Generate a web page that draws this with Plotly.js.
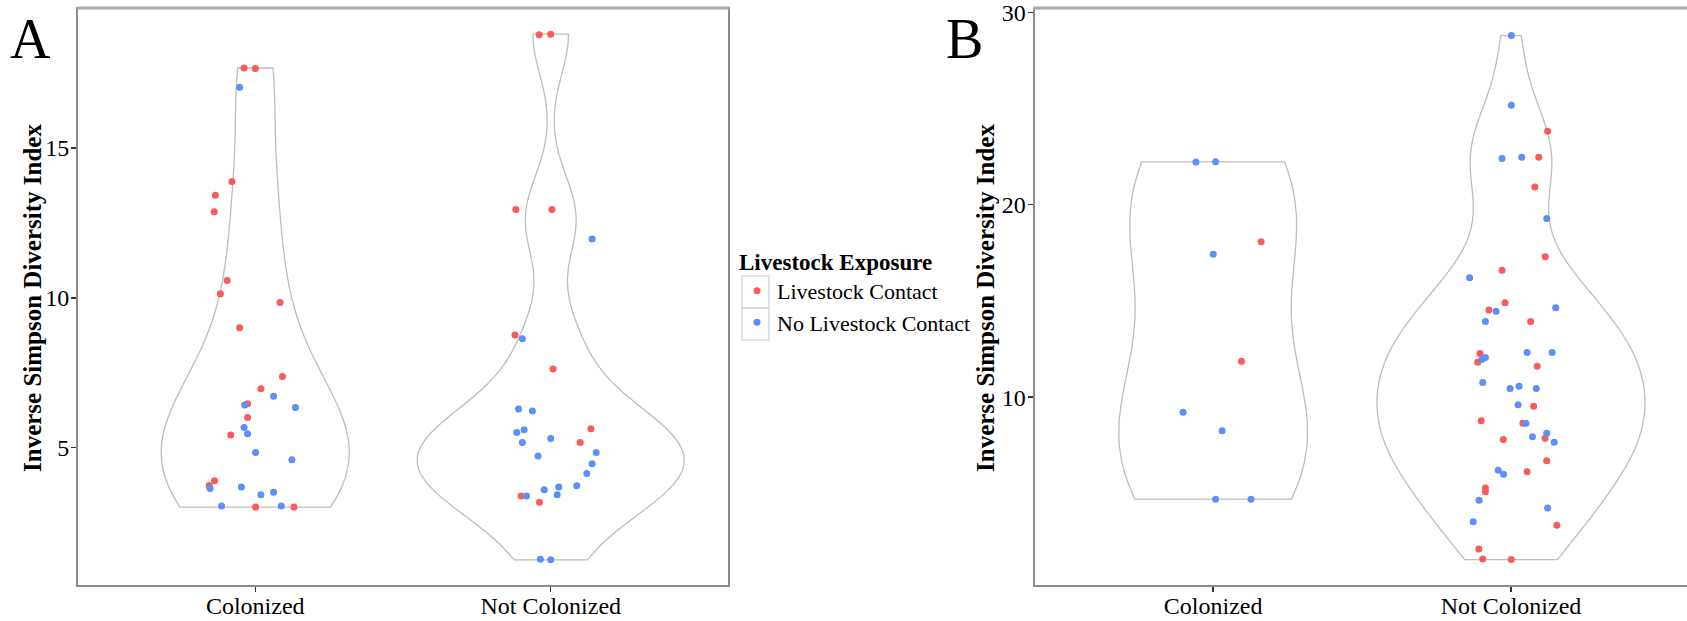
<!DOCTYPE html>
<html>
<head>
<meta charset="utf-8">
<script src="https://cdn.plot.ly/plotly-3.0.1.min.js"></script>
<style>
  html, body { margin: 0; padding: 0; background: #fff; }
  #chart { width: 1687px; height: 621px; }
</style>
</head>
<body>
<div id="chart"></div>
<script>
// Categories and groups
const categories = ['Colonized', 'Not Colonized'];
const exposureNames = ['Livestock Contact', 'No Livestock Contact'];
const exposureColors = ['#fa5a5a', '#5b8ff9'];
const yTitleText = 'Inverse Simpson Diversity Index';

// Panel A: Inverse Simpson diversity, with horizontal jitter offsets of each point
const aColContactY   = [17.67, 17.65, 13.88, 13.42, 12.87, 10.58, 10.13, 9.84, 9.00, 7.37, 6.96, 6.46, 6.00, 5.42, 3.89, 3.73, 3.01, 3.01];
const aColContactJit = [-0.038, 0.000, -0.079, -0.135, -0.139, -0.095, -0.118, 0.084, -0.053, 0.092, 0.019, -0.026, -0.026, -0.083, -0.138, -0.156, 0.001, 0.131];
const aColNoContactY   = [17.03, 6.71, 6.42, 6.34, 5.67, 5.46, 4.83, 4.59, 3.63, 3.68, 3.42, 3.51, 3.05, 3.05];
const aColNoContactJit = [-0.053, 0.062, -0.036, 0.136, -0.038, -0.026, 0.001, 0.124, -0.153, -0.047, 0.019, 0.062, -0.114, 0.088];
const aNotContactY   = [18.78, 18.80, 12.95, 12.95, 8.76, 7.62, 5.63, 5.17, 3.38, 3.17];
const aNotContactJit = [-0.039, 0.000, -0.118, 0.004, -0.121, 0.008, 0.136, 0.100, -0.100, -0.038];
const aNotNoContactY   = [11.96, 8.63, 6.29, 6.22, 5.59, 5.50, 5.30, 5.17, 4.83, 4.72, 4.46, 4.13, 3.72, 3.68, 3.59, 3.42, 3.38, 1.27, 1.25];
const aNotNoContactJit = [0.140, -0.096, -0.109, -0.062, -0.090, -0.115, 0.000, -0.096, 0.154, -0.043, 0.140, 0.122, 0.088, 0.027, -0.022, 0.022, -0.082, -0.035, 0.000];

// Panel B
const bColContactY   = [18.08, 11.87];
const bColContactJit = [0.161, 0.095];
const bColNoContactY   = [22.22, 22.23, 17.42, 9.22, 8.26, 4.70, 4.70];
const bColNoContactJit = [-0.058, 0.008, 0.000, -0.101, 0.030, 0.008, 0.127];
const bNotContactY   = [23.82, 22.47, 20.92, 17.30, 16.59, 14.91, 14.53, 13.93, 12.27, 11.82, 11.61, 9.53, 8.77, 8.64, 7.87, 7.80, 6.70, 6.13, 5.28, 5.09, 3.34, 2.11, 1.59, 1.56];
const bNotContactJit = [0.123, 0.093, 0.080, 0.115, -0.030, -0.020, -0.074, 0.066, -0.104, -0.112, 0.088, 0.076, -0.100, 0.040, 0.114, -0.026, 0.120, 0.054, -0.086, -0.086, 0.154, -0.108, -0.095, 0.001];
const bNotNoContactY   = [28.79, 25.17, 22.40, 22.47, 19.29, 16.20, 14.46, 14.65, 13.93, 12.06, 11.96, 12.32, 12.32, 10.76, 10.45, 10.57, 10.45, 9.61, 8.64, 8.13, 7.94, 7.66, 6.20, 6.00, 4.64, 4.24, 3.53];
const bNotNoContactJit = [0.001, 0.001, -0.030, 0.036, 0.120, -0.139, -0.050, 0.150, -0.086, -0.086, -0.098, 0.054, 0.138, -0.095, -0.003, 0.027, 0.085, 0.024, 0.050, 0.120, 0.072, 0.145, -0.043, -0.025, -0.107, 0.123, -0.127];

const aTicks = [5, 10, 15];
const bTicks = [10, 20, 30];

// Silverman's rule (R's bw.nrd0) for the kernel density bandwidth
function quantile7(sorted, p) {
  const h = (sorted.length - 1) * p;
  const lo = Math.floor(h);
  const hi = Math.min(lo + 1, sorted.length - 1);
  return sorted[lo] + (h - lo) * (sorted[hi] - sorted[lo]);
}
function nrd0(vals) {
  const n = vals.length;
  const s = vals.slice().sort((a, b) => a - b);
  const mean = s.reduce((a, b) => a + b, 0) / n;
  const sd = Math.sqrt(s.reduce((a, b) => a + (b - mean) * (b - mean), 0) / (n - 1));
  const iqr = quantile7(s, 0.75) - quantile7(s, 0.25);
  let lo = Math.min(sd, iqr / 1.34);
  if (!(lo > 0)) lo = sd || Math.abs(s[0]) || 1;
  return 0.9 * lo * Math.pow(n, -0.2);
}

// Violins in one panel share a density scale (equal-area scaling)
function violin(vals, pos, xa, ya, group) {
  return {
    type: 'violin', orientation: 'v', y: vals, x0: pos, xaxis: xa, yaxis: ya,
    scalegroup: group, scalemode: 'width', spanmode: 'hard',
    bandwidth: nrd0(vals), points: false,
    box: { visible: false }, meanline: { visible: false },
    line: { color: '#bdbdbd', width: 1.3 }, fillcolor: 'rgba(255,255,255,0)',
    hoverinfo: 'skip', showlegend: false
  };
}
function dots(vals, jit, pos, xa, ya, k, showlegend) {
  return {
    type: 'scatter', mode: 'markers', x: jit.map(j => pos + j), y: vals,
    xaxis: xa, yaxis: ya, name: exposureNames[k],
    marker: { color: exposureColors[k], size: 7 },
    showlegend: showlegend, hoverinfo: 'y'
  };
}

const traces = [
  violin(aColContactY.concat(aColNoContactY), 0, 'x', 'y', 'A'),
  violin(aNotContactY.concat(aNotNoContactY), 1, 'x', 'y', 'A'),
  violin(bColContactY.concat(bColNoContactY), 0, 'x2', 'y2', 'B'),
  violin(bNotContactY.concat(bNotNoContactY), 1, 'x2', 'y2', 'B'),
  dots(aColContactY, aColContactJit, 0, 'x', 'y', 0, true),
  dots(aColNoContactY, aColNoContactJit, 0, 'x', 'y', 1, true),
  dots(aNotContactY, aNotContactJit, 1, 'x', 'y', 0, false),
  dots(aNotNoContactY, aNotNoContactJit, 1, 'x', 'y', 1, false),
  dots(bColContactY, bColContactJit, 0, 'x2', 'y2', 0, false),
  dots(bColNoContactY, bColNoContactJit, 0, 'x2', 'y2', 1, false),
  dots(bNotContactY, bNotContactJit, 1, 'x2', 'y2', 0, false),
  dots(bNotNoContactY, bNotNoContactJit, 1, 'x2', 'y2', 1, false)
];

const W = 1687, H = 621;
const yDom = [(H - 585) / H, (H - 9) / H];
const axisBase = {
  showline: true, linecolor: '#8c8c8c', linewidth: 2,
  ticks: 'outside', ticklen: 5, tickwidth: 1.5, tickcolor: '#333',
  showgrid: false, zeroline: false, fixedrange: true,
  tickfont: { size: 24, color: '#000' }, ticklabeloverflow: 'allow'
};
const yTitleFont = { size: 25, weight: 'bold', color: '#000' };

const layout = {
  width: W, height: H,
  margin: { l: 0, r: 0, t: 0, b: 0 },
  paper_bgcolor: '#fff', plot_bgcolor: '#fff',
  violinmode: 'overlay', violingap: 0.1, violingroupgap: 0,
  font: { family: '"Liberation Serif", "Times New Roman", serif', color: '#000', size: 22 },
  xaxis: Object.assign({}, axisBase, {
    domain: [78 / W, 728 / W], range: [-0.6, 1.6], anchor: 'y', mirror: true,
    tickvals: [0, 1], ticktext: categories, ticklabelstandoff: -7
  }),
  yaxis: Object.assign({}, axisBase, {
    domain: yDom, range: [0.41, 19.64], anchor: 'x', mirror: true,
    tickvals: aTicks, ticklabelstandoff: -3
  }),
  xaxis2: Object.assign({}, axisBase, {
    domain: [1034.5 / W, 1], range: [-0.6, 1.591], anchor: 'y2', mirror: true,
    tickvals: [0, 1], ticktext: categories, ticklabelstandoff: -7
  }),
  yaxis2: Object.assign({}, axisBase, {
    domain: yDom, range: [0.24, 30.17], anchor: 'x2',
    tickvals: bTicks, ticklabelstandoff: -3
  }),
  legend: {
    x: 737 / W, xanchor: 'left', y: (H - 240) / H, yanchor: 'top',
    title: { text: 'Livestock Exposure', font: { size: 23, weight: 'bold' } },
    font: { size: 22 }, bgcolor: 'rgba(0,0,0,0)', borderwidth: 0,
    itemwidth: 30, tracegroupgap: 0
  },
  shapes: [
    // heavier top frame lines
    { type: 'line', xref: 'paper', yref: 'paper', x0: 77 / W, x1: 729 / W, y0: (H - 8) / H, y1: (H - 8) / H, line: { color: '#a8a8a8', width: 3 } },
    { type: 'line', xref: 'paper', yref: 'paper', x0: 1033.5 / W, x1: 1, y0: (H - 8) / H, y1: (H - 8) / H, line: { color: '#a8a8a8', width: 3 } },
    // legend key boxes
    { type: 'rect', xref: 'paper', yref: 'paper', x0: 742 / W, x1: 769 / W, y0: (H - 308) / H, y1: (H - 276) / H, line: { color: '#cfcfcf', width: 1.2 } },
    { type: 'rect', xref: 'paper', yref: 'paper', x0: 742 / W, x1: 769 / W, y0: (H - 340) / H, y1: (H - 308) / H, line: { color: '#cfcfcf', width: 1.2 } }
  ],
  annotations: [
    { text: 'A', xref: 'paper', yref: 'paper', x: 8 / W, y: (H - 6) / H, xanchor: 'left', yanchor: 'top', showarrow: false, font: { size: 56, color: '#000' } },
    { text: 'B', xref: 'paper', yref: 'paper', x: 944 / W, y: (H - 6) / H, xanchor: 'left', yanchor: 'top', showarrow: false, font: { size: 56, color: '#000' } },
    // y-axis titles of both panels
    { text: yTitleText, textangle: -90, xref: 'paper', yref: 'paper', x: 32 / W, y: (H - 298) / H, xanchor: 'center', yanchor: 'middle', showarrow: false, font: yTitleFont },
    { text: yTitleText, textangle: -90, xref: 'paper', yref: 'paper', x: 985 / W, y: (H - 298) / H, xanchor: 'center', yanchor: 'middle', showarrow: false, font: yTitleFont }
  ]
};

Plotly.newPlot('chart', traces, layout, { displayModeBar: false, staticPlot: true });
</script>
</body>
</html>
